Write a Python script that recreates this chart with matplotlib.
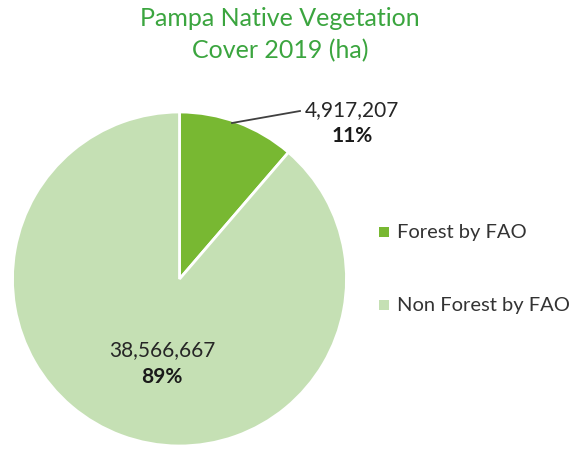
import matplotlib.pyplot as plt
from matplotlib.patches import Rectangle

categories = ["Forest by FAO", "Non Forest by FAO"]
values = [4917207, 38566667]
colors = ["#78B832", "#C5E0B4"]

plt.rcParams['font.family'] = ['Lato', 'DejaVu Sans']

W, H = 569, 452
fig = plt.figure(figsize=(W / 100, H / 100), dpi=100)

# pie axes: centre (179, 280) px, radius 167 px
cx, cy, r = 179.5, 280, 167
ax = fig.add_axes([(cx - r) / W, 1 - (cy + r) / H, 2 * r / W, 2 * r / H])
wedges, _ = ax.pie(values, colors=colors, startangle=90, counterclock=False,
                   radius=1, wedgeprops=dict(edgecolor="white", linewidth=2))
ax.set_xlim(-1, 1)
ax.set_ylim(-1, 1)
ax.set_aspect("equal")
ax.axis("off")

total = sum(values)
pcts = [round(v / total * 100) for v in values]

def px(x, y):
    return x / W, 1 - y / H

fig.text(*px(280, 18), "Pampa Native Vegetation", ha="center", va="center",
         fontsize=18, color="#3BA53F")
fig.text(*px(280, 51), "Cover 2019 (ha)", ha="center", va="center",
         fontsize=18, color="#3BA53F")

# forest label with leader line
fig.add_artist(plt.Line2D([232 / W, 300 / W], [1 - 124 / H, 1 - 112 / H],
                          color="#404040", lw=1.3))
fig.text(*px(352, 110), f"{values[0]:,}", ha="center", va="center",
         fontsize=15, color="#262626")
fig.text(*px(352, 136), f"{pcts[0]}%", ha="center", va="center",
         fontsize=15, fontweight="bold", color="#1a1a1a")

fig.text(*px(162, 350), f"{values[1]:,}", ha="center", va="center",
         fontsize=15, color="#262626")
fig.text(*px(162, 377), f"{pcts[1]}%", ha="center", va="center",
         fontsize=15, fontweight="bold", color="#1a1a1a")

# legend
for i, (cat, col) in enumerate(zip(categories, colors)):
    y = 233 + i * 73
    fig.add_artist(Rectangle((379 / W, 1 - (y + 5) / H), 10 / W, 10 / H,
                             facecolor=col, edgecolor="none",
                             transform=fig.transFigure))
    fig.text(*px(397, y), cat, ha="left", va="center", fontsize=14.5,
             color="#333333")

fig.savefig("out.png", dpi=100, facecolor="white")
